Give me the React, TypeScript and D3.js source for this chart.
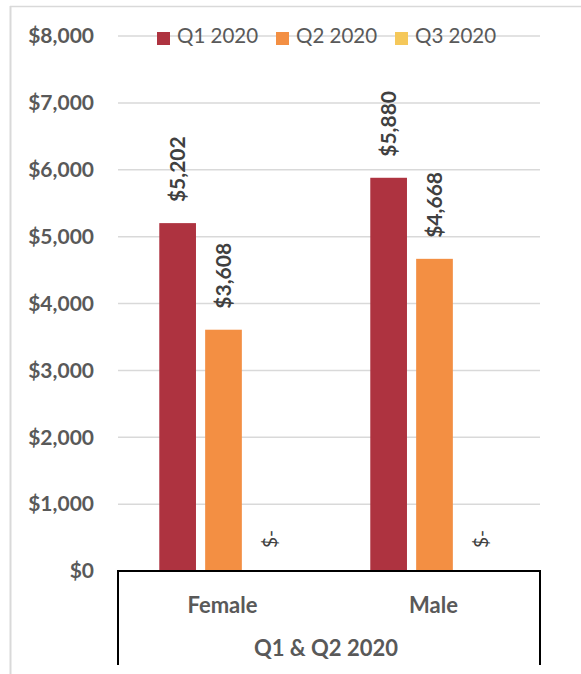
import React from "react";
import * as d3 from "d3";

const categories = ["Female", "Male"];
const seriesNames = ["Q1 2020", "Q2 2020", "Q3 2020"];
const q1Values = [5202, 5880];
const q2Values = [3608, 4668];
const q3Values = [0, 0];
const yTicks = [0, 1000, 2000, 3000, 4000, 5000, 6000, 7000, 8000];
const groupLabel = "Q1 & Q2 2020";
const colors = ["#AE3340", "#F38F43", "#F5C85A"];

const W = 581;
const H = 674;
const left = 118;
const right = 540;
const top = 36;
const bottom = 571;
const FONT = "Lato, 'Open Sans', sans-serif";

export default function App() {
  const y = d3.scaleLinear().domain([0, 8000]).range([bottom, top]);
  const x0 = d3.scaleBand().domain(categories).range([left, right]).paddingInner(0).paddingOuter(0);
  const x1 = d3.scaleBand().domain(seriesNames).range([0, x0.bandwidth()]).paddingInner(0.2).paddingOuter(0.9);
  const series = [q1Values, q2Values, q3Values];
  const fmt = (v: number) => (v === 0 ? "$-" : "$" + d3.format(",")(v));

  return (
    <div style={{ position: "absolute", left: 0, top: 0 }}>
      <svg width={W} height={H} style={{ display: "block", background: "#fff" }}>
        <line x1={10.5} x2={10.5} y1={6} y2={H} stroke="#d9d9d9" strokeWidth={2} />
        <line x1={10} x2={W} y1={6.5} y2={6.5} stroke="#d9d9d9" strokeWidth={1.5} />
        {yTicks.map((t) => (
          <g key={t}>
            {t > 0 && (
              <line x1={left} x2={right} y1={y(t)} y2={y(t)} stroke="#d9d9d9" strokeWidth={1.5} />
            )}
            <text x={94} y={y(t)} dy="0.35em" textAnchor="end" fontFamily={FONT} fontWeight="bold" fontSize={21} fill="#595959">
              {t === 0 ? "$0" : fmt(t)}
            </text>
          </g>
        ))}
        {categories.map((c, ci) =>
          series.map((vals, si) => {
            const v = vals[ci];
            const bx = (x0(c) as number) + (x1(seriesNames[si]) as number);
            const bw = x1.bandwidth();
            const cx = bx + bw / 2;
            const ty = v === 0 ? y(0) - 23 : y(v) - 21;
            return (
              <g key={c + si}>
                {v > 0 && <rect x={bx} y={y(v)} width={bw} height={y(0) - y(v)} fill={colors[si]} />}
                <text
                  transform={`translate(${v === 0 ? cx + 1 : cx},${ty}) rotate(-90)`}
                  dy="0.35em"
                  textAnchor="start"
                  fontFamily={FONT}
                  fontWeight={v === 0 ? "normal" : "bold"}
                  fontSize={v === 0 ? 19 : 21}
                  fill="#404040"
                >
                  {fmt(v)}
                </text>
              </g>
            );
          })
        )}
        <line x1={left - 1} x2={right + 1} y1={bottom} y2={bottom} stroke="#000" strokeWidth={2} />
        <line x1={left} x2={left} y1={bottom} y2={665} stroke="#000" strokeWidth={2} />
        <line x1={right} x2={right} y1={bottom} y2={665} stroke="#000" strokeWidth={2} />
        {categories.map((c) => (
          <text key={c} x={(x0(c) as number) + x0.bandwidth() / 2 - 1} y={605} dy="0.35em" textAnchor="middle" fontFamily={FONT} fontWeight="bold" fontSize={22} fill="#595959">
            {c}
          </text>
        ))}
        <text x={(left + right) / 2 - 3} y={648} dy="0.35em" textAnchor="middle" fontFamily={FONT} fontWeight="bold" fontSize={22} fill="#595959">
          {groupLabel}
        </text>
        {seriesNames.map((s, i) => {
          const lx = 157 + i * 119;
          return (
            <g key={s}>
              <rect x={lx} y={32} width={13} height={13} fill={colors[i]} />
              <text x={lx + 20} y={36} dy="0.35em" fontFamily={FONT} fontSize={20.5} fill="#595959">
                {s}
              </text>
            </g>
          );
        })}
      </svg>
    </div>
  );
}
